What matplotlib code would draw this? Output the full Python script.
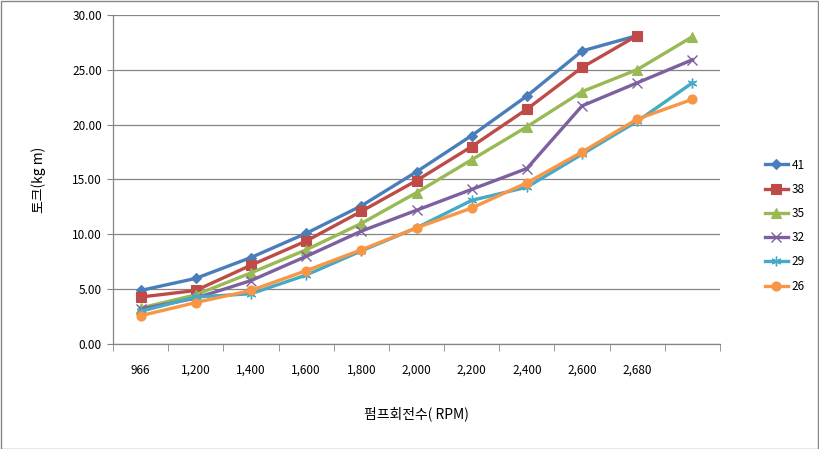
import matplotlib
matplotlib.use("Agg")
import matplotlib.pyplot as plt
from matplotlib.patches import Rectangle
import numpy as np

plt.rcParams['font.family'] = ['Noto Sans CJK KR', 'DejaVu Sans']

categories = ["966", "1,200", "1,400", "1,600", "1,800", "2,000", "2,200", "2,400", "2,600", "2,680", ""]
series_names = ["41", "38", "35", "32", "29", "26"]
s41 = [4.9, 6.0, 7.9, 10.1, 12.6, 15.7, 19.0, 22.6, 26.7, 28.1, None]
s38 = [4.3, 4.9, 7.2, 9.4, 12.1, 14.9, 18.0, 21.4, 25.2, 28.1, None]
s35 = [3.3, 4.5, 6.5, 8.6, 11.0, 13.8, 16.8, 19.8, 23.0, 25.0, 28.0]
s32 = [3.2, 4.2, 5.8, 8.0, 10.3, 12.2, 14.1, 16.0, 21.7, 23.8, 25.9]
s29 = [3.0, 4.3, 4.6, 6.3, 8.5, 10.6, 13.1, 14.3, 17.3, 20.3, 23.8]
s26 = [2.6, 3.8, 4.9, 6.7, 8.6, 10.6, 12.4, 14.7, 17.5, 20.5, 22.3]

data = [s41, s38, s35, s32, s29, s26]
colors = ["#4A7EBB", "#BE4B48", "#98B954", "#7D60A0", "#46AAC5", "#F79646"]
markers = ["D", "s", "^", "x", (6, 2, 0), "o"]
msizes = [5, 6.5, 6.5, 7, 7, 6.5]

fig = plt.figure(figsize=(8.19, 4.49), dpi=100)
ax = fig.add_axes([113/819, 1-344.3/449, (720-113)/819, (344.3-14.7)/449])

x = np.arange(len(categories))
for name, vals, c, m, ms in zip(series_names, data, colors, markers, msizes):
    xs = [xi for xi, v in zip(x, vals) if v is not None]
    ys = [v for v in vals if v is not None]
    mew = 1.0 if m in ("x",) or isinstance(m, tuple) else 0.8
    ax.plot(xs, ys, color=c, lw=2.4, marker=m, ms=ms, mec=c, mfc=c, mew=mew, label=name)

ax.set_xlim(-0.5, len(categories) - 0.5)
ax.set_ylim(0, 30)
ax.set_yticks(np.arange(0, 30.01, 5))
ax.set_yticklabels([f"{v:.2f}" for v in np.arange(0, 30.01, 5)])
ax.set_xticks(x)
ax.set_xticklabels(categories)
ax.set_xticks(np.arange(-0.5, len(categories)), minor=True)
ax.tick_params(axis='x', which='major', length=0, pad=14, labelsize=8.5)
ax.tick_params(axis='x', which='minor', length=5, color='#868686', direction='out')
ax.tick_params(axis='y', length=4, color='#868686', labelsize=8.5, pad=4)
ax.grid(axis='y', color='#868686', lw=0.9)
ax.set_axisbelow(True)
for s in ['top', 'right']:
    ax.spines[s].set_visible(False)
for s in ['left', 'bottom']:
    ax.spines[s].set_color('#868686')
    ax.spines[s].set_linewidth(0.9)

ax.set_ylabel("토크(kg m)", fontsize=10, labelpad=19)
ax.set_xlabel("펌프회전수( RPM)", fontsize=10, labelpad=21)

leg = fig.legend(loc='upper left', bbox_to_anchor=(754/819, 1-148/449), frameon=False,
                 fontsize=8.5, handlelength=2.0, labelspacing=0.95, handletextpad=0.3)

fig.patches.append(Rectangle((0.5/819, 0.5/449), 1-1.5/819, 1-1.5/449, transform=fig.transFigure,
                             fill=False, edgecolor='#868686', lw=1))

fig.savefig("out.png", dpi=100)
